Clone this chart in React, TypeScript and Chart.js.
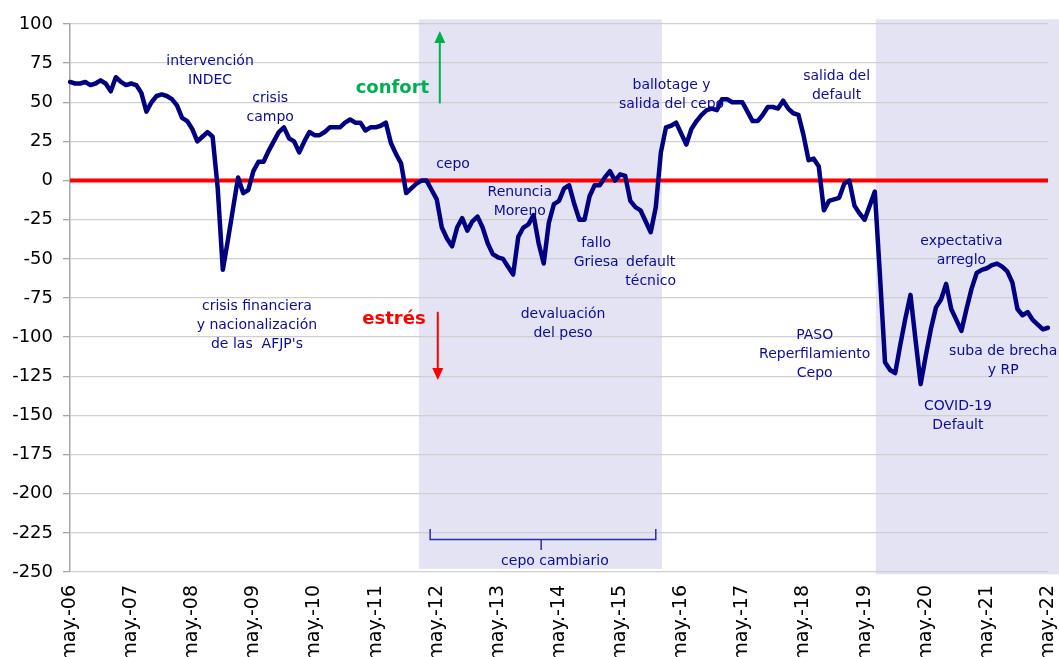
import React, { useEffect, useRef } from "react";
import { Chart, registerables } from "chart.js";

Chart.register(...registerables);

const MONTHS = ["ene.", "feb.", "mar.", "abr.", "may.", "jun.", "jul.", "ago.", "sep.", "oct.", "nov.", "dic."];
const START_YEAR = 2006;
const START_MONTH = 4; // may

// Monthly index, may-06 .. may-22
const indexValues = [
  63, 62, 62, 63, 61, 62, 64, 62, 57, 66, 63, 61,
  62, 61, 56, 44, 50, 54, 55, 54, 52, 48, 40, 38,
  33, 25, 28, 31, 28, -5, -57, -38, -18, 2, -8, -6,
  6, 12, 12, 19, 25, 31, 34, 27, 25, 18, 25, 31,
  29, 29, 31, 34, 34, 34, 37, 39, 37, 37, 32, 34,
  34, 35, 37, 24, 17, 11, -8, -5, -2, 0, 0, -6,
  -12, -30, -37, -42, -30, -24, -32, -26, -23, -30, -40, -47,
  -49, -50, -55, -60, -36, -30, -28, -22, -40, -53, -27, -15,
  -13, -5, -3, -15, -25, -25, -10, -3, -3, 2, 6, 0,
  4, 3, -13, -17, -19, -26, -33, -17, 18, 34, 35, 37,
  30, 23, 33, 38, 42, 45, 46, 45, 52, 52, 50, 50,
  50, 44, 38, 38, 42, 47, 47, 46, 51, 46, 43, 42,
  29, 13, 14, 9, -19, -13, -12, -11, -2, 0, -16, -21,
  -25, -16, -7, -60, -116, -121, -123, -105, -88, -73, -102, -130,
  -112, -95, -81, -76, -66, -82, -89, -96, -82, -69, -59, -57,
  -56, -54, -53, -55, -58, -65, -82, -86, -84, -89, -92, -95,
  -94,
];

const categories = indexValues.map((_, i) => {
  const m = START_MONTH + i;
  const yr = START_YEAR + Math.floor(m / 12);
  return `${MONTHS[m % 12]}-${String(yr % 100).padStart(2, "0")}`;
});

const Y_MIN = -250;
const Y_MAX = 100;
const Y_STEP = 25;
const REFERENCE_VALUE = 0;

// shaded periods (category index range, value range)
const shadeFrom = [68.5, 158.2];
const shadeTo = [116.2, 197];
const shadeTop = [103, 103];
const shadeBottom = [-248, -251.5];

// annotations: [index, value, lines]
const noteIdx = [27.5, 39.3, 75.2, 88.3, 103.3, 114, 118.1, 150.5, 36.7, 96.8, 146.2, 175, 183.2, 174.3, 95.2];
const noteVal = [76, 52.5, 10.2, -7.5, -40.3, -52.5, 60.8, 66.5, -80.3, -85.7, -98.6, -39, -108.8, -144.3, -243];
const noteText = [
  ["intervención", "INDEC"],
  ["crisis", "campo"],
  ["cepo"],
  ["Renuncia", "Moreno"],
  ["fallo", "Griesa"],
  ["default", "técnico"],
  ["ballotage y", "salida del cepo"],
  ["salida del", "default"],
  ["crisis financiera", "y nacionalización", "de las  AFJP's"],
  ["devaluación", "del peso"],
  ["PASO", "Reperfilamiento", "Cepo"],
  ["expectativa", "arreglo"],
  ["suba de brecha", "y RP"],
  ["COVID-19", "Default"],
  ["cepo cambiario"],
];

const NAVY = "#000080";
const NOTE_COLOR = "#0c0c96";

const drawArrow = (ctx: CanvasRenderingContext2D, x: number, y0: number, y1: number, color: string) => {
  const dir = y1 < y0 ? -1 : 1;
  const head = 12;
  ctx.save();
  ctx.strokeStyle = color;
  ctx.fillStyle = color;
  ctx.lineWidth = 2;
  ctx.beginPath();
  ctx.moveTo(x, y0);
  ctx.lineTo(x, y1 - dir * head);
  ctx.stroke();
  ctx.beginPath();
  ctx.moveTo(x, y1);
  ctx.lineTo(x - 5.5, y1 - dir * head);
  ctx.lineTo(x + 5.5, y1 - dir * head);
  ctx.closePath();
  ctx.fill();
  ctx.restore();
};

const shadePlugin = {
  id: "shades",
  beforeDraw(chart: any) {
    const { ctx, scales } = chart;
    const xs = scales.x;
    const ys = scales.y;
    ctx.save();
    ctx.fillStyle = "#e3e3f3";
    for (let i = 0; i < shadeFrom.length; i++) {
      const x0 = xs.getPixelForValue(shadeFrom[i]);
      const x1 = xs.getPixelForValue(shadeTo[i]);
      const y0 = ys.getPixelForValue(shadeTop[i]);
      const y1 = ys.getPixelForValue(shadeBottom[i]);
      ctx.fillRect(x0, y0, x1 - x0, y1 - y0);
    }
    ctx.restore();
  },
  beforeDatasetsDraw(chart: any) {
    const { ctx, scales, chartArea } = chart;
    const xs = scales.x;
    const ys = scales.y;
    // reference line
    const yz = ys.getPixelForValue(REFERENCE_VALUE);
    ctx.save();
    ctx.strokeStyle = "#ff0000";
    ctx.lineWidth = 4;
    ctx.beginPath();
    ctx.moveTo(chartArea.left, yz);
    ctx.lineTo(chartArea.right, yz);
    ctx.stroke();

    // notes
    ctx.font = '14px "DejaVu Sans"';
    ctx.fillStyle = NOTE_COLOR;
    ctx.textAlign = "center";
    ctx.textBaseline = "middle";
    for (let i = 0; i < noteText.length; i++) {
      const x = xs.getPixelForValue(noteIdx[i]);
      const y = ys.getPixelForValue(noteVal[i]);
      noteText[i].forEach((t, k) => ctx.fillText(t, x, y + k * 19));
    }

    // confort / estrés
    ctx.font = 'bold 18px "DejaVu Sans"';
    ctx.fillStyle = "#00b050";
    ctx.fillText("confort", xs.getPixelForValue(63.3), ys.getPixelForValue(59));
    ctx.fillStyle = "#ff0000";
    ctx.fillText("estrés", xs.getPixelForValue(63.6), ys.getPixelForValue(-88.5));

    drawArrow(ctx, xs.getPixelForValue(72.6), ys.getPixelForValue(49.3), ys.getPixelForValue(95.5), "#00b050");
    drawArrow(ctx, xs.getPixelForValue(72.2), ys.getPixelForValue(-83.8), ys.getPixelForValue(-127.3), "#ff0000");

    // bracket for "cepo cambiario"
    const bl = xs.getPixelForValue(70.7);
    const br = xs.getPixelForValue(115);
    const bm = xs.getPixelForValue(92.5);
    const bt = ys.getPixelForValue(-222.6);
    const bh = ys.getPixelForValue(-229.2);
    const bb = ys.getPixelForValue(-236);
    ctx.strokeStyle = "#2b2bb0";
    ctx.lineWidth = 1.5;
    ctx.beginPath();
    ctx.moveTo(bl, bt);
    ctx.lineTo(bl, bh);
    ctx.lineTo(br, bh);
    ctx.lineTo(br, bt);
    ctx.moveTo(bm, bh);
    ctx.lineTo(bm, bb);
    ctx.stroke();
    ctx.restore();
  },
};

export default function App() {
  const ref = useRef<HTMLCanvasElement | null>(null);

  useEffect(() => {
    if (!ref.current) return;
    const chart = new Chart(ref.current, {
      type: "line",
      data: {
        labels: categories,
        datasets: [
          {
            data: indexValues,
            borderColor: NAVY,
            borderWidth: 4.5,
            pointRadius: 0,
            tension: 0,
            borderJoinStyle: "round",
            borderCapStyle: "round",
            fill: false,
          },
        ],
      },
      options: {
        animation: false,
        responsive: false,
        maintainAspectRatio: false,
        layout: { padding: { left: 0, right: 11, top: 24, bottom: 0 } },
        plugins: { legend: { display: false }, tooltip: { enabled: false } },
        scales: {
          x: {
            type: "category",
            offset: false,
            grid: { display: false, drawTicks: false },
            border: { display: false },
            ticks: {
              autoSkip: false,
              maxRotation: 90,
              minRotation: 90,
              padding: 13,
              color: "#000",
              font: { family: "DejaVu Sans", size: 19 },
              callback: (_v: any, i: number) => (i % 12 === 0 ? categories[i] : ""),
            },
            afterFit: (s: any) => {
              s.height = 85;
              s.paddingLeft = 0;
              s.paddingRight = 0;
            },
          },
          y: {
            min: Y_MIN,
            max: Y_MAX,
            grid: {
              color: "#cfcfcf",
              lineWidth: 1.3,
              borderDash: [4, 3],
              tickColor: "#a6a6a6",
              tickLength: 7,
              tickBorderDash: [],
            } as any,
            border: { display: true, color: "#a6a6a6", width: 1.5 },
            ticks: {
              stepSize: Y_STEP,
              padding: 10,
              color: "#000",
              font: { family: "DejaVu Sans", size: 18 },
            },
            afterFit: (s: any) => {
              s.width = 70;
              s.paddingTop = 0;
              s.paddingBottom = 0;
            },
          },
        },
      },
      plugins: [shadePlugin],
    });
    return () => chart.destroy();
  }, []);

  return (
    <div style={{ position: "fixed", left: 0, top: 0, width: 1059, height: 657, background: "#fff" }}>
      <canvas ref={ref} width={1059} height={657} style={{ width: 1059, height: 657 }} />
    </div>
  );
}
